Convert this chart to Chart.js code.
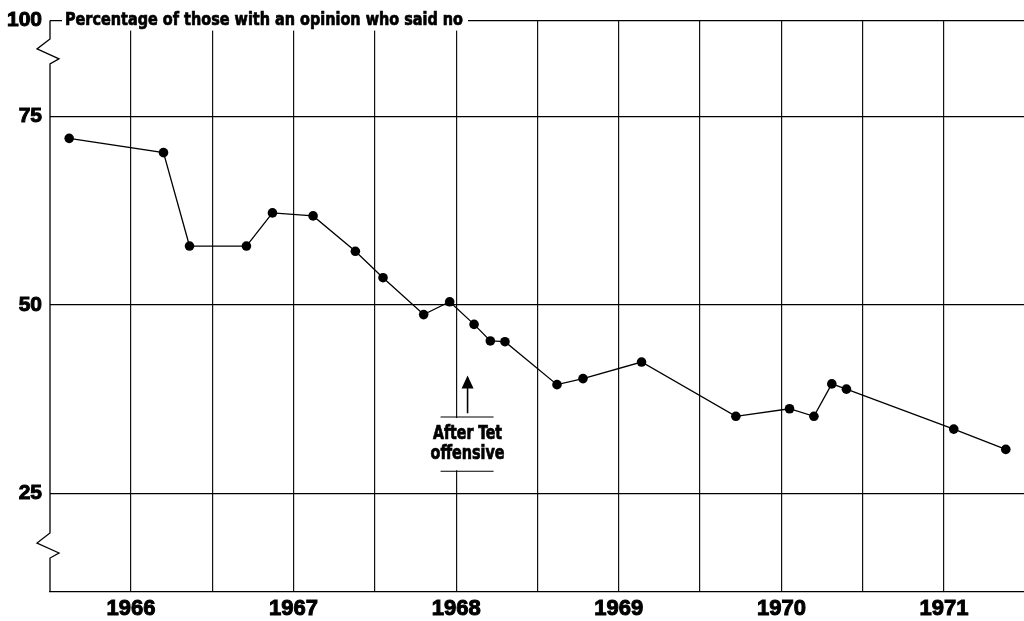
<!DOCTYPE html>
<html>
<head>
<meta charset="utf-8">
<script src="https://cdn.jsdelivr.net/npm/chart.js@4.4.0/dist/chart.umd.min.js"></script>
<style>
  html, body { margin: 0; background: #fff; overflow: hidden; }
  #wrap { width: 1024px; height: 621px; }
  canvas { display: block; }
</style>
</head>
<body>
<div id="wrap"><canvas id="myChart"></canvas></div>
<script>
// Survey dates (decimal years) and share of those with an opinion who said "no"
const surveyDates = [1965.62, 1966.20, 1966.36, 1966.71, 1966.87, 1967.12, 1967.38, 1967.55,
    1967.80, 1967.96, 1968.11, 1968.21, 1968.30, 1968.62, 1968.78, 1969.14, 1969.72,
    1970.05, 1970.20, 1970.31, 1970.40, 1971.06, 1971.38];
const pctNo = [72.1, 70.2, 57.8, 57.8, 62.2, 61.8, 57.1, 53.6, 48.7, 50.4, 47.4, 45.2,
    45.1, 39.4, 40.2, 42.4, 35.2, 36.2, 35.2, 39.5, 38.8, 33.5, 30.8];

// Axis ticks
const yearTicks = [1966, 1967, 1968, 1969, 1970, 1971];
const yearLabels = ['1966', '1967', '1968', '1969', '1970', '1971'];
const pctTicks = [25, 50, 75];
const pctLabels = ['25', '50', '75'];
const topLabel = '100';

const titleText = 'Percentage of those with an opinion who said no';
const tetDate = 1968.07;
const tetLines = ['After Tet', 'offensive'];

const xMin = 1965.502, xMax = 1971.492;
const yMin = 11.87, yMax = 87.73;
const breakValues = [85.3, 19.7];

const narrowFont = "'DejaVu Sans Condensed', 'Liberation Sans', sans-serif";
const tickFont = "'Liberation Sans', Arial, sans-serif";

// half-year grid lines
const halfYears = [];
for (let v = 1966; v <= 1971; v += 0.5) halfYears.push(v);

// draw text squeezed horizontally to a given width (with a thin stroke to make it heavier)
function squeezedText(ctx, text, x, y, width, align) {
    const w = ctx.measureText(text).width;
    const k = Math.min(1, width / w);
    ctx.save();
    ctx.translate(x, y);
    ctx.scale(k, 1);
    ctx.textAlign = align;
    ctx.lineWidth = 0.7;
    ctx.strokeStyle = '#000';
    ctx.fillText(text, 0, 0);
    ctx.strokeText(text, 0, 0);
    ctx.restore();
    return w * k;
}

const decor = {
    id: 'decor',
    afterDraw(chart) {
        const ctx = chart.ctx;
        const a = chart.chartArea;
        const x = chart.scales.x, y = chart.scales.y;
        ctx.save();
        ctx.strokeStyle = '#000';
        ctx.fillStyle = '#000';
        ctx.lineWidth = 1.3;

        // left axis with zigzag breaks
        const x0 = a.left;
        ctx.beginPath();
        ctx.moveTo(x0, a.top);
        breakValues.forEach(v => {
            const yb = y.getPixelForValue(v);
            ctx.lineTo(x0, yb);
            ctx.lineTo(x0 - 13, yb + 10);
            ctx.lineTo(x0 + 9, yb + 20);
            ctx.lineTo(x0, yb + 25);
        });
        ctx.lineTo(x0, a.bottom);
        ctx.stroke();

        // title sitting on the top rule
        ctx.font = 'bold 18px ' + narrowFont;
        ctx.textBaseline = 'middle';
        ctx.fillStyle = '#fff';
        ctx.fillRect(x0 + 12, a.top - 10, 406, 20);
        ctx.fillStyle = '#000';
        squeezedText(ctx, titleText, x0 + 15, a.top, 398, 'left');

        // Tet annotation
        const tx = x.getPixelForValue(tetDate);
        const tip = y.getPixelForValue(40.6);
        const tail = y.getPixelForValue(35.6);
        const top = y.getPixelForValue(35.1);
        const bot = y.getPixelForValue(27.9);
        ctx.lineWidth = 1.6;
        ctx.beginPath();
        ctx.moveTo(tx, tip + 10);
        ctx.lineTo(tx, tail);
        ctx.stroke();
        ctx.beginPath();
        ctx.moveTo(tx, tip);
        ctx.lineTo(tx - 6, tip + 13);
        ctx.lineTo(tx + 6, tip + 13);
        ctx.closePath();
        ctx.fill();

        ctx.fillStyle = '#fff';
        ctx.fillRect(tx - 40, top + 1, 80, bot - top - 2);
        ctx.strokeStyle = '#000';
        ctx.lineWidth = 1.2;
        ctx.beginPath();
        ctx.moveTo(tx - 27, top); ctx.lineTo(tx + 26, top);
        ctx.moveTo(tx - 27, bot); ctx.lineTo(tx + 26, bot);
        ctx.stroke();
        ctx.fillStyle = '#000';
        ctx.font = 'bold 19px ' + narrowFont;
        squeezedText(ctx, tetLines[0], tx, top + 17, 69, 'center');
        squeezedText(ctx, tetLines[1], tx, top + 37, 74, 'center');
        ctx.restore();
    }
};

const ctx = document.getElementById('myChart').getContext('2d');
const myChart = new Chart(ctx, {
    type: 'line',
    data: {
        datasets: [{
            data: surveyDates.map((d, i) => ({ x: d, y: pctNo[i] })),
            borderColor: '#000',
            borderWidth: 1.3,
            pointRadius: 4.8,
            pointBackgroundColor: '#000',
            pointBorderWidth: 0,
            tension: 0
        }]
    },
    options: {
        responsive: true,
        maintainAspectRatio: false,
        animation: false,
        layout: { autoPadding: false, padding: { top: 20, right: 0, left: 0, bottom: 0 } },
        plugins: {
            legend: { display: false },
            tooltip: { enabled: false }
        },
        scales: {
            x: {
                type: 'linear',
                min: xMin,
                max: xMax,
                afterBuildTicks: (scale) => {
                    scale.ticks = halfYears.map(v => ({ value: v }));
                },
                afterFit: (scale) => {
                    scale.height = 29;
                    scale.paddingLeft = 0;
                    scale.paddingRight = 0;
                },
                ticks: {
                    color: '#000',
                    textStrokeColor: '#000',
                    textStrokeWidth: 1,
                    padding: 4,
                    maxRotation: 0,
                    autoSkip: false,
                    font: { family: tickFont, size: 22, weight: 'bold' },
                    callback: (value) => {
                        const i = yearTicks.indexOf(value);
                        return i === -1 ? '' : yearLabels[i];
                    }
                },
                grid: { color: '#111', lineWidth: 1.2, drawTicks: false },
                border: { display: true, color: '#000', width: 1.3 }
            },
            y: {
                min: yMin,
                max: yMax,
                afterBuildTicks: (scale) => {
                    scale.ticks = pctTicks.concat([yMax]).map(v => ({ value: v }));
                },
                afterFit: (scale) => { scale.width = 50; },
                ticks: {
                    color: '#000',
                    textStrokeColor: '#000',
                    textStrokeWidth: 1,
                    padding: 8,
                    font: { family: tickFont, size: 21, weight: 'bold' },
                    callback: (value) => {
                        if (value === yMax) return topLabel;
                        const i = pctTicks.indexOf(value);
                        return i === -1 ? '' : pctLabels[i];
                    }
                },
                grid: { color: '#000', lineWidth: 1.2, drawTicks: false },
                border: { display: false }
            }
        }
    },
    plugins: [decor]
});
</script>
</body>
</html>
